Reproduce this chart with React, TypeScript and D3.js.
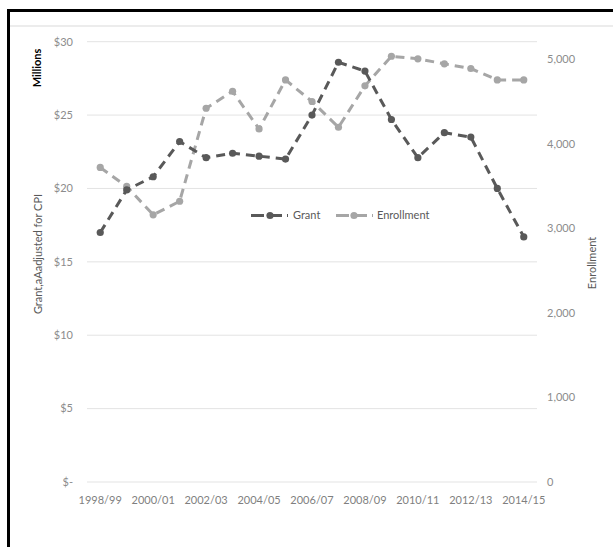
import React from "react";
import * as d3 from "d3";

const categories = [
  "1998/99", "1999/00", "2000/01", "2001/02", "2002/03", "2003/04", "2004/05", "2005/06",
  "2006/07", "2007/08", "2008/09", "2009/10", "2010/11", "2011/12", "2012/13", "2013/14", "2014/15",
];
const grant = [17.0, 19.9, 20.8, 23.2, 22.1, 22.4, 22.2, 22.0, 25.0, 28.6, 28.0, 24.7, 22.1, 23.8, 23.5, 20.0, 16.7];
const enrollment = [3720, 3495, 3160, 3320, 4420, 4620, 4175, 4755, 4500, 4195, 4685, 5035, 5005, 4945, 4890, 4755, 4755];
const leftTicks = [0, 5, 10, 15, 20, 25, 30];
const rightTicks = [0, 1000, 2000, 3000, 4000, 5000];
const xLabels = ["1998/99", "2000/01", "2002/03", "2004/05", "2006/07", "2008/09", "2010/11", "2012/13", "2014/15"];

const W = 613;
const H = 547;
const FONT = "Lato, 'Open Sans', sans-serif";
const GRANT_COLOR = "#595959";
const ENR_COLOR = "#A6A6A6";

export default function App() {
  const x = d3.scaleBand<string>().domain(categories).range([87, 537]);
  const yL = d3.scaleLinear().domain([0, 30]).range([482, 41.7]);
  const yR = d3.scaleLinear().domain([0, 5207]).range([482, 41.7]);
  const cx = (c: string) => (x(c) as number) + x.bandwidth() / 2;

  const lineG = d3.line<number>().x((_, i) => cx(categories[i])).y((d) => yL(d));
  const lineE = d3.line<number>().x((_, i) => cx(categories[i])).y((d) => yR(d));

  const fmtLeft = (v: number) => (v === 0 ? "$-" : `$${v}`);
  const fmtRight = d3.format(",");

  return (
    <div style={{ position: "absolute", left: 0, top: 0 }}>
      <svg width={W} height={H} style={{ display: "block", background: "#fff" }} fontFamily={FONT}>
        <rect x={0} y={0} width={W} height={H} fill="#fff" />
        {/* frame */}
        <line x1={8.5} y1={10.5} x2={W} y2={10.5} stroke="#000" strokeWidth={3} />
        <line x1={8.5} y1={9} x2={8.5} y2={H} stroke="#000" strokeWidth={3} />
        <line x1={10} y1={26} x2={W} y2={26} stroke="#d9d9d9" strokeWidth={1} />

        {/* gridlines */}
        {leftTicks.map((t) => (
          <line key={t} x1={87} x2={537} y1={yL(t)} y2={yL(t)} stroke="#e3e3e3" strokeWidth={1} />
        ))}

        {/* left ticks */}
        {leftTicks.map((t) => (
          <text key={t} x={73} y={yL(t)} dy="0.35em" textAnchor="end" fontSize={11} fill="#8c8c8c">
            {fmtLeft(t)}
          </text>
        ))}
        {/* right ticks */}
        {rightTicks.map((t) => (
          <text key={t} x={547} y={yR(t)} dy="0.35em" textAnchor="start" fontSize={11} fill="#8c8c8c">
            {fmtRight(t)}
          </text>
        ))}
        {/* x labels */}
        {xLabels.map((c) => (
          <text key={c} x={cx(c)} y={500} dy="0.35em" textAnchor="middle" fontSize={11} fill="#7f7f7f">
            {c}
          </text>
        ))}

        {/* axis titles */}
        <text transform="translate(41,68) rotate(-90)" textAnchor="middle" fontSize={11} fontWeight="bold" fill="#000">
          Millions
        </text>
        <text transform="translate(42,254) rotate(-90)" textAnchor="middle" fontSize={11} fill="#595959">
          Grant,aAadjusted for CPI
        </text>
        <text transform="translate(596,263) rotate(-90)" textAnchor="middle" fontSize={11} fill="#595959">
          Enrollment
        </text>

        {/* series */}
        <path d={lineE(enrollment) || ""} fill="none" stroke={ENR_COLOR} strokeWidth={3} strokeDasharray="9,6" />
        {enrollment.map((v, i) => (
          <circle key={i} cx={cx(categories[i])} cy={yR(v)} r={3.6} fill={ENR_COLOR} />
        ))}
        <path d={lineG(grant) || ""} fill="none" stroke={GRANT_COLOR} strokeWidth={3} strokeDasharray="9,6" />
        {grant.map((v, i) => (
          <circle key={i} cx={cx(categories[i])} cy={yL(v)} r={3.6} fill={GRANT_COLOR} />
        ))}

        {/* legend */}
        <g>
          <line x1={251} x2={288} y1={215.5} y2={215.5} stroke={GRANT_COLOR} strokeWidth={3} strokeDasharray="13,5" />
          <circle cx={270} cy={215.5} r={3.6} fill={GRANT_COLOR} />
          <text x={293} y={215.5} dy="0.35em" fontSize={11} fill="#595959">Grant</text>
          <line x1={336} x2={373} y1={215.5} y2={215.5} stroke={ENR_COLOR} strokeWidth={3} strokeDasharray="13,5" />
          <circle cx={354} cy={215.5} r={3.6} fill={ENR_COLOR} />
          <text x={377} y={215.5} dy="0.35em" fontSize={11} fill="#595959">Enrollment</text>
        </g>
      </svg>
    </div>
  );
}
